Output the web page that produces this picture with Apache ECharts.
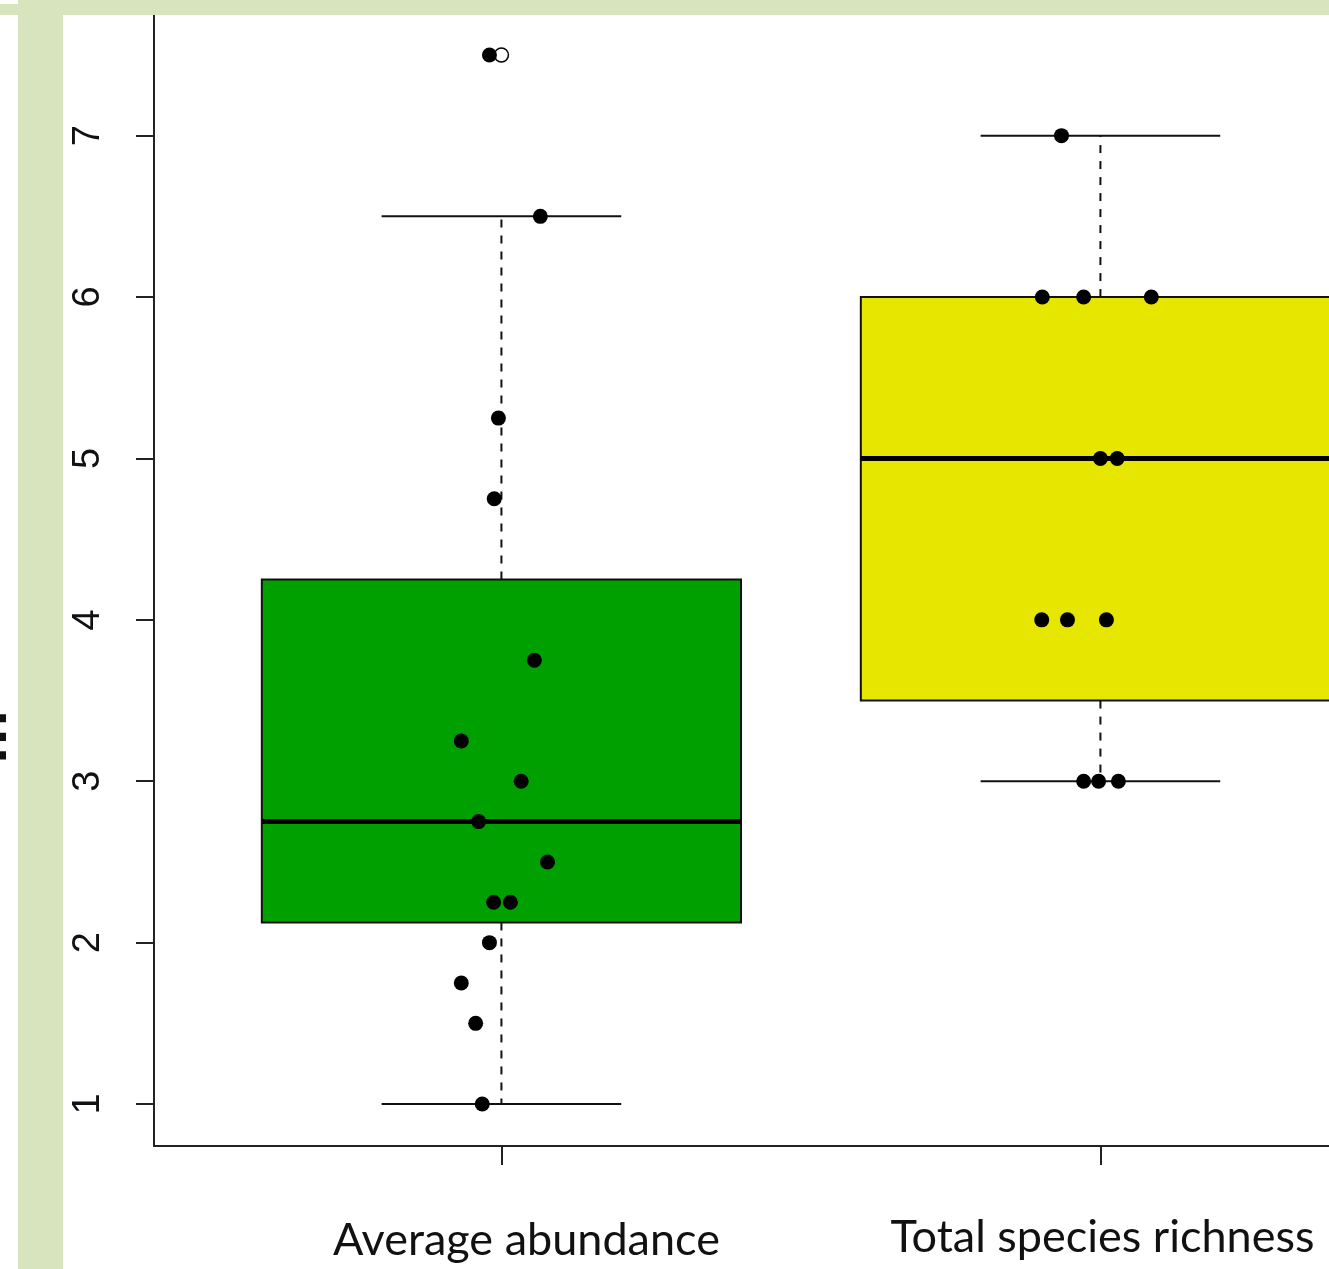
<!DOCTYPE html>
<html>
<head>
<meta charset="utf-8">
<title>Average abundance vs total species richness</title>
<script src="https://cdn.jsdelivr.net/npm/echarts@6/dist/echarts.min.js"></script>
<style>
  html, body { margin: 0; padding: 0; background: #ffffff; }
  #chart { width: 1329px; height: 1269px; }
</style>
</head>
<body>
<div id="chart"></div>
<script>
// Groups and their positions on the x axis
const groupNames = ['Average abundance', 'Total species richness'];
const groupPos = [1, 2];

// Five-number summaries drawn as boxes
const whiskerLow = [1, 3];
const lowerHinge = [2.125, 3.5];
const medians = [2.75, 5];
const upperHinge = [4.25, 6];
const whiskerHigh = [6.5, 7];

// Points beyond the whiskers (open circles)
const outlierX = [1];
const outlierY = [7.5];

// Individual observations, jittered horizontally
const abundanceX = [0.98, 1.065, 0.995, 0.988, 1.055, 0.933, 1.033, 0.962, 1.077, 0.987, 1.015, 0.98, 0.933, 0.957, 0.968];
const abundanceY = [7.5, 6.5, 5.25, 4.75, 3.75, 3.25, 3.0, 2.75, 2.5, 2.25, 2.25, 2.0, 1.75, 1.5, 1.0];
const richnessX = [1.935, 1.903, 1.972, 2.085, 2.0, 2.028, 1.902, 1.945, 2.01, 1.972, 1.997, 2.03];
const richnessY = [7, 6, 6, 6, 5, 5, 4, 4, 4, 3, 3, 3];

// Axis ticks
const yTicks = [1, 2, 3, 4, 5, 6, 7];

const boxFill = ['#00a000', '#e6e600'];
const ink = '#111111';

const boxData = groupPos.map((p, i) => [p, whiskerLow[i], lowerHinge[i], medians[i], upperHinge[i], whiskerHigh[i]]);
const pointData = abundanceX.map((x, i) => [x, abundanceY[i]])
  .concat(richnessX.map((x, i) => [x, richnessY[i]]));
const outlierData = outlierX.map((x, i) => [x, outlierY[i]]);

function renderBox(params, api) {
  const c = api.value(0), lo = api.value(1), q1 = api.value(2), md = api.value(3), q3 = api.value(4), hi = api.value(5);
  const halfBox = 0.4, halfCap = 0.2;
  const tl = api.coord([c - halfBox, q3]);
  const br = api.coord([c + halfBox, q1]);
  const line = (a, b, style) => ({
    type: 'line',
    shape: { x1: a[0], y1: a[1], x2: b[0], y2: b[1] },
    style: Object.assign({ stroke: ink, lineWidth: 2 }, style || {})
  });
  return {
    type: 'group',
    children: [
      line(api.coord([c, q3]), api.coord([c, hi]), { lineDash: [8, 8] }),
      line(api.coord([c, q1]), api.coord([c, lo]), { lineDash: [8, 8] }),
      line(api.coord([c - halfCap, hi]), api.coord([c + halfCap, hi])),
      line(api.coord([c - halfCap, lo]), api.coord([c + halfCap, lo])),
      {
        type: 'rect',
        shape: { x: tl[0], y: tl[1], width: br[0] - tl[0], height: br[1] - tl[1] },
        style: { fill: boxFill[params.dataIndex], stroke: ink, lineWidth: 2 }
      },
      line(api.coord([c - halfBox, md]), api.coord([c + halfBox, md]), { lineWidth: 5, stroke: '#000' })
    ]
  };
}

const chart = echarts.init(document.getElementById('chart'), null, { renderer: 'canvas' });

const labelFont = { fontFamily: 'Lato', fontSize: 45, color: '#111' };

chart.setOption({
  animation: false,
  backgroundColor: '#ffffff',
  grid: { left: 154, top: 13, right: 0, height: 1133, containLabel: false },
  xAxis: {
    type: 'value',
    min: 0.42,
    max: 2.3816,
    axisLine: { show: true, lineStyle: { color: '#222', width: 2 } },
    axisTick: { show: true, customValues: groupPos, length: 19, lineStyle: { color: '#222', width: 2 } },
    axisLabel: {
      show: true,
      customValues: groupPos,
      margin: 69,
      formatter: v => (v === 1 ? '{a|' + groupNames[0] + '}' : '{b|' + groupNames[1] + '}'),
      rich: {
        a: Object.assign({ padding: [3, 0, 0, 50] }, labelFont),
        b: Object.assign({ padding: [0, 0, 0, 4] }, labelFont)
      }
    },
    splitLine: { show: false }
  },
  yAxis: {
    type: 'value',
    min: 0.74,
    max: 7.76,
    axisLine: { show: true, lineStyle: { color: '#222', width: 2 } },
    axisTick: { show: true, customValues: yTicks, length: 18, lineStyle: { color: '#222', width: 2 } },
    axisLabel: {
      show: true,
      customValues: yTicks,
      rotate: 90,
      margin: 46,
      fontFamily: 'Liberation Sans',
      fontSize: 38,
      color: '#111'
    },
    splitLine: { show: false }
  },
  series: [
    {
      type: 'custom',
      name: 'boxes',
      renderItem: renderBox,
      data: boxData,
      encode: { x: 0, y: [1, 2, 3, 4, 5] },
      clip: false,
      z: 1
    },
    {
      type: 'scatter',
      name: 'outliers',
      data: outlierData,
      symbol: 'circle',
      symbolSize: 14,
      itemStyle: { color: '#ffffff', borderColor: '#000', borderWidth: 1.5, opacity: 1 },
      z: 2
    },
    {
      type: 'scatter',
      name: 'observations',
      data: pointData,
      symbol: 'circle',
      symbolSize: 15,
      itemStyle: { color: '#000', opacity: 1 },
      z: 3
    }
  ],
  graphic: [
    {
      type: 'text',
      x: 19,
      y: 737,
      rotation: Math.PI / 2,
      z: 10,
      style: { text: 'm', font: 'bold 60px "Liberation Sans"', fill: '#111', align: 'center', verticalAlign: 'bottom' }
    },
    { type: 'rect', z: 20, shape: { x: 0, y: 0, width: 1329, height: 15 }, style: { fill: '#d7e4bd' } },
    { type: 'rect', z: 21, shape: { x: 0, y: 0, width: 18, height: 4 }, style: { fill: '#ffffff' } },
    { type: 'rect', z: 20, shape: { x: 18, y: 0, width: 45, height: 1269 }, style: { fill: '#d7e4bd' } }
  ]
});
</script>
</body>
</html>
